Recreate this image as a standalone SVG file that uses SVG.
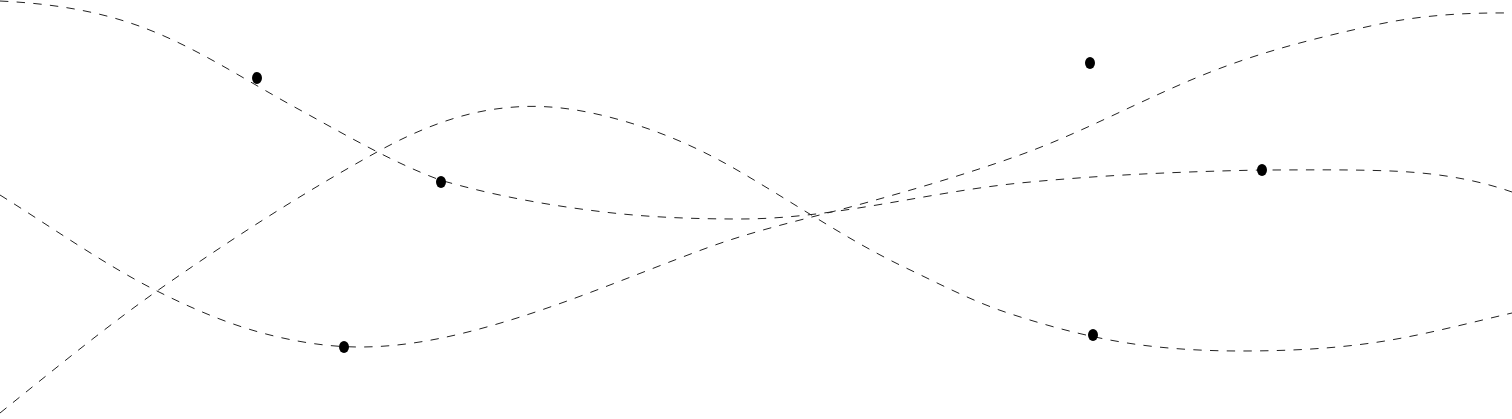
<svg xmlns="http://www.w3.org/2000/svg" width="1512" height="419" viewBox="0 0 1512 419">
<style>
.curve{fill:none;stroke:#222;stroke-width:1;stroke-dasharray:8.4 8.3}
.dot{fill:#000}
</style>
<rect width="1512" height="419" fill="#fff"/>
<g id="connectors">
<path id="curveA" class="curve" d="M0,1 C52,3.6 105,11 157,33 C205,53 252,84 300,110 C347,135.7 393,162.6 440,180 C495,196 549,205.4 604,212 C649,217.4 695,219 740,219 C833,219 927,192.3 1020,183 C1101,175 1181,171.6 1262,170 C1305,170 1348,169.3 1391,171 C1431,172.6 1472,178 1512,192"/>
<path id="curveB" class="curve" d="M0,195 C52,227.4 105,265 157,291 C195,310 232,325.6 270,335 C300,342.5 330,347 360,347 C408,347 456,336.4 504,322 C571,302 637,273.7 704,249 C758,229 811,218 865,203 C917,188.5 968,173.6 1020,155 C1083,132.4 1145,98 1208,73 C1264,50.7 1319,37.3 1375,25 C1421,15 1466,12.5 1512,13"/>
<path id="curveC" class="curve" d="M0,413 C52,371.2 105,327.6 157,291 C230,239.7 304,192.3 377,152 C419,128.7 462,112.2 504,108 C532,104.7 559,106.5 587,112 C637,122 687,141 737,170 C793,202.3 848,240.3 904,267 C939,283.6 973,301.6 1008,313 C1052,327.6 1097,339.2 1141,345 C1174,349.3 1208,351 1241,351 C1291,351 1341,348.5 1391,340 C1431,333.1 1472,322.3 1512,313"/>
</g>
<g id="dot1"><ellipse class="dot" cx="257" cy="78" rx="5" ry="6"/></g>
<g id="dot2"><ellipse class="dot" cx="441" cy="182" rx="5" ry="6"/></g>
<g id="dot3"><ellipse class="dot" cx="344" cy="347" rx="5" ry="6"/></g>
<g id="dot4"><ellipse class="dot" cx="1090" cy="63" rx="5" ry="6"/></g>
<g id="dot5"><ellipse class="dot" cx="1262" cy="170" rx="5" ry="6"/></g>
<g id="dot6"><ellipse class="dot" cx="1093" cy="335" rx="5" ry="6"/></g>
</svg>
